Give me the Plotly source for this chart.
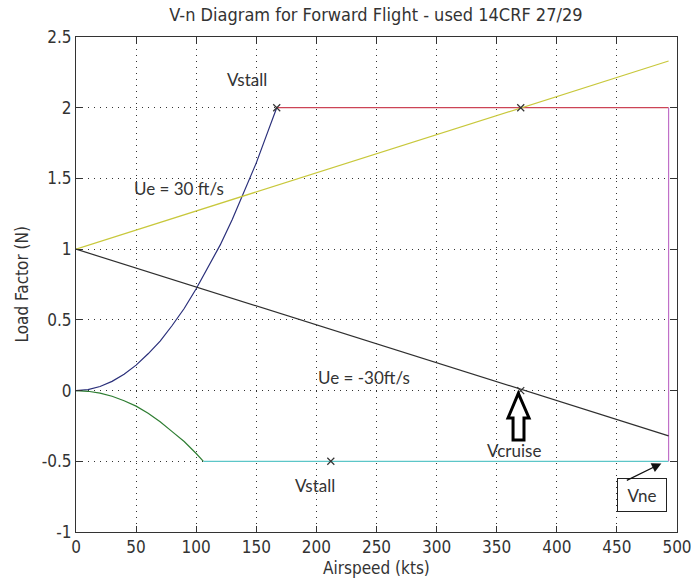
import plotly.graph_objects as go

# ---- data ----
stall_pos_v = [0, 10, 20, 30, 40, 50, 60, 70, 80, 90, 100, 110, 120, 130, 140, 150, 160, 167]
stall_pos_n = [0, 0.007, 0.029, 0.065, 0.115, 0.18, 0.26, 0.35, 0.46, 0.58, 0.72, 0.87, 1.03, 1.21, 1.41, 1.61, 1.84, 2.0]

stall_neg_v = [0, 10, 20, 30, 40, 50, 60, 70, 80, 90, 100, 106]
stall_neg_n = [0, -0.005, -0.018, -0.04, -0.072, -0.11, -0.16, -0.22, -0.29, -0.36, -0.445, -0.5]

neg_limit_v = [106, 493]
neg_limit_n = [-0.5, -0.5]

pos_limit_v = [167, 493]
pos_limit_n = [2.0, 2.0]

vne_v = [493, 493]
vne_n = [2.0, -0.5]

gust_pos_v = [0, 493]
gust_pos_n = [1.0, 2.33]

gust_neg_v = [0, 493]
gust_neg_n = [1.0, -0.32]

mark_v = [167, 370, 370, 212]
mark_n = [2.0, 2.0, 0.0, -0.5]

x_ticks = [0, 50, 100, 150, 200, 250, 300, 350, 400, 450, 500]
y_ticks = [-1, -0.5, 0, 0.5, 1, 1.5, 2, 2.5]
y_tick_labels = ["-1", "-0.5", "0", "0.5", "1", "1.5", "2", "2.5"]

AXFONT = "Liberation Sans Narrow, DejaVu Sans Condensed, Liberation Sans, Arial"
ANFONT = "Lato, Open Sans, sans-serif"
TXT = "#333333"

fig = go.Figure()

def line(x, y, color):
    fig.add_trace(go.Scatter(x=x, y=y, mode="lines", line=dict(color=color, width=1.2),
                             showlegend=False, hoverinfo="skip"))

line(stall_pos_v, stall_pos_n, "#2a2f7a")
line(stall_neg_v, stall_neg_n, "#2e7d32")
line(neg_limit_v, neg_limit_n, "#5cc6c8")
line(pos_limit_v, pos_limit_n, "#cc4456")
line(vne_v, vne_n, "#c070c8")
line(gust_pos_v, gust_pos_n, "#c8c83c")
line(gust_neg_v, gust_neg_n, "#2f2f2f")

fig.add_trace(go.Scatter(x=mark_v, y=mark_n, mode="markers",
                         marker=dict(symbol="x-thin-open", size=7, color="#333333",
                                     line=dict(width=1.2, color="#333333")),
                         showlegend=False, hoverinfo="skip"))

txt = dict(font=dict(family=ANFONT, size=17, color=TXT), showarrow=False)
fig.add_annotation(x=142, y=2.196, text="Vstall", **txt)
fig.add_annotation(x=86, y=1.432, text="Ue = 30 ft/s", **txt)
fig.add_annotation(x=240, y=0.095, text="Ue = -30ft/s", **txt)
fig.add_annotation(x=364, y=-0.426, text="Vcruise", **txt)
fig.add_annotation(x=199, y=-0.668, text="Vstall", **txt)
fig.add_annotation(x=471, y=-0.739, text="Vne", bordercolor="#222222", borderwidth=1,
                   borderpad=4, bgcolor="white", width=40, height=24, **txt)

# Vne pointer arrow
fig.add_annotation(x=487, y=-0.515, ax=457, ay=-0.64, axref="x", ayref="y", text="",
                   showarrow=True, arrowhead=2, arrowsize=1.6, arrowwidth=1.2, arrowcolor="#111111")

# hollow block arrow pointing to Vcruise
tipx, tipy = 368, -0.02
hl, hr, sl, sr = 359.4, 376.9, 363.6, 372.7
hb, sb = -0.194, -0.35
path = (f"M {tipx},{tipy} L {hr},{hb} L {sr},{hb} L {sr},{sb} L {sl},{sb} "
        f"L {sl},{hb} L {hl},{hb} Z")
fig.add_shape(type="path", path=path, xref="x", yref="y",
              line=dict(color="black", width=3), fillcolor="white")

# axis titles as annotations for exact placement
fig.add_annotation(xref="paper", yref="paper", x=0.5, y=-0.0727, text="Airspeed (kts)",
                   showarrow=False, xanchor="center", yanchor="middle",
                   font=dict(family=AXFONT, size=17, color=TXT))
fig.add_annotation(xref="paper", yref="paper", x=-0.0899, y=0.5, text="Load Factor (N)",
                   showarrow=False, xanchor="center", yanchor="middle", textangle=-90,
                   font=dict(family=AXFONT, size=17, color=TXT))

axis_common = dict(showline=True, linecolor="#333333", linewidth=1, mirror="ticks",
                   ticks="inside", ticklen=6, tickcolor="#333333",
                   showgrid=True, gridcolor="#333333", griddash="1px,5px", gridwidth=1,
                   zeroline=False, automargin=False, ticklabeloverflow="allow",
                   tickfont=dict(family=AXFONT, size=17, color=TXT))

fig.update_xaxes(range=[0, 500], tickvals=x_ticks, **axis_common)
fig.update_yaxes(range=[-1, 2.5], tickvals=y_ticks, ticktext=y_tick_labels, **axis_common)

fig.update_layout(
    width=691, height=584,
    margin=dict(l=76, r=14, t=37, b=52, autoexpand=False),
    plot_bgcolor="white", paper_bgcolor="white",
    title=dict(text="V-n Diagram for Forward Flight - used 14CRF 27/29",
               font=dict(family=AXFONT, size=18, color=TXT),
               x=0.544, xanchor="center", y=0.975, yanchor="middle"),
)

fig.write_html("out.html", config={"displayModeBar": False},
               post_script="document.body.style.margin='0';document.body.style.overflow='hidden';")
